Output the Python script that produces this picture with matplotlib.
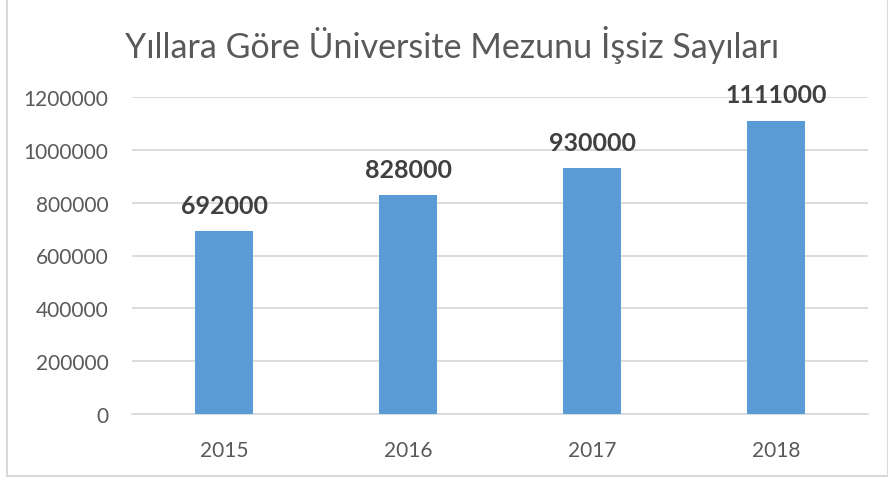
import matplotlib.pyplot as plt
from matplotlib.patches import Rectangle

plt.rcParams["font.family"] = ["Lato", "DejaVu Sans"]

years = ["2015", "2016", "2017", "2018"]
unemployed = [692000, 828000, 930000, 1111000]
title = "Yıllara Göre Üniversite Mezunu İşsiz Sayıları"

fig = plt.figure(figsize=(8.88, 4.81), dpi=100)
ax = fig.add_axes([132 / 888, 1 - 415 / 481, 736 / 888, 317 / 481])

x = range(len(years))
ax.bar(x, unemployed, width=0.315, color="#5B9BD5", zorder=3)
for i, v in zip(x, unemployed):
    ax.text(i, v + 55000, str(v), ha="center", va="bottom",
            fontsize=18, fontweight="bold", color="#404040", zorder=4)

ax.set_xlim(-0.5, len(years) - 0.5)
ax.set_ylim(0, 1200000)
ax.set_yticks(range(0, 1200001, 200000))
ax.set_yticklabels([str(t) for t in range(0, 1200001, 200000)])
ax.set_xticks(list(x))
ax.set_xticklabels(years)
ax.tick_params(length=0, labelsize=15, labelcolor="#595959")
ax.tick_params(axis="x", pad=19)
ax.tick_params(axis="y", pad=17)
ax.grid(True, axis="y", color="#d9d9d9", linewidth=1.3, zorder=0)
for side in ["top", "right", "left"]:
    ax.spines[side].set_visible(False)
ax.spines["bottom"].set_color("#d9d9d9")
ax.spines["bottom"].set_linewidth(1.3)

fig.text(452 / 888, 1 - 45 / 481, title, ha="center", va="center",
         fontsize=24.5, color="#595959")

fig.patches.append(Rectangle((7 / 888, 1 - 477 / 481), 1 - 7 / 888, 477 / 481,
                             transform=fig.transFigure, fill=False,
                             edgecolor="#d9d9d9", linewidth=1.5))

fig.savefig("out.png", dpi=100)
